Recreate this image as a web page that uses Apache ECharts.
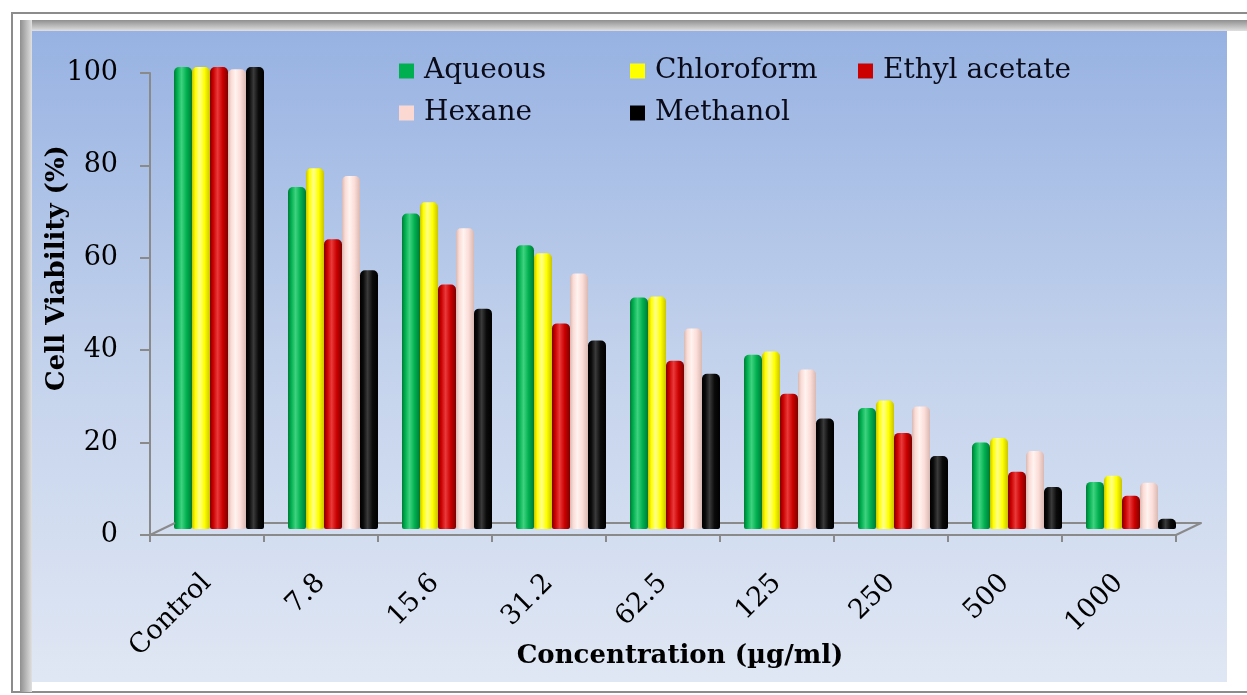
<!DOCTYPE html>
<html><head><meta charset="utf-8">
<script src="https://cdn.jsdelivr.net/npm/echarts@6/dist/echarts.min.js"></script>
<style>html,body{margin:0;padding:0;background:#fff}#c{width:1247px;height:695px}</style>
</head><body><div id="c"></div>
<script>
// ---- data ----
const categories = ['Control', '7.8', '15.6', '31.2', '62.5', '125', '250', '500', '1000'];
const seriesNames = ['Aqueous', 'Chloroform', 'Ethyl acetate', 'Hexane', 'Methanol'];
const aqueous    = [100, 74.0, 68.3, 61.4, 50.1, 37.7, 26.2, 18.7, 10.2];
const chloroform = [100, 78.1, 70.7, 59.7, 50.3, 38.4, 27.8, 19.7, 11.5];
const ethyl      = [100, 62.7, 52.9, 44.5, 36.4, 29.3, 20.8, 12.4, 7.2];
const hexane     = [99.5, 76.4, 65.1, 55.3, 43.4, 34.5, 26.5, 16.9, 10.0];
const methanol   = [100, 56.0, 47.7, 40.8, 33.6, 23.9, 15.8, 9.1, 2.2];
const yMin = 0, yMax = 100, yStep = 20;
const xAxisTitle = 'Concentration (µg/ml)';
const yAxisTitle = 'Cell Viability (%)';

// ---- styling ----
const FONT = 'DejaVu Serif';
const W = 1247, H = 695;
const G = {left: 150, right: 71, top: 73, bottom: 160};   // front (axis) plane
const B = {dx: 12, dy: -6};                                  // bar plane (3D depth)
const F = {dx: 25, dy: -12};                                 // back edge of floor
const palette = [
  ['#007a35', '#00b050', '#3fd27f'],
  ['#c9c400', '#ffff00', '#ffff8a'],
  ['#7e0000', '#cc0000', '#e83a3a'],
  ['#d9b8b2', '#fbdcd6', '#fff3f0'],
  ['#000000', '#0a0a0a', '#3a3a3a']
];
const legendColors = ['#00b050', '#ffff00', '#cc0000', '#fbd9d2', '#000000'];
const values = [aqueous, chloroform, ethyl, hexane, methanol];

function cyl(p) {
  return {type: 'linear', x: 0, y: 0, x2: 1, y2: 0, colorStops: [
    {offset: 0, color: p[0]}, {offset: 0.18, color: p[1]}, {offset: 0.42, color: p[2]},
    {offset: 0.7, color: p[1]}, {offset: 1, color: p[0]}]};
}
function shift(g, d) {
  return {left: g.left + d.dx, right: g.right - d.dx, top: g.top + d.dy, bottom: g.bottom - d.dy};
}
const gridBar = shift(G, B), gridBack = shift(G, F);
const axisGray = '#8a8a8a';
const x0 = G.left, x1 = W - G.right, yBase = H - G.bottom;

const legendPos = [[399, 57], [630, 57], [858, 57], [399, 99], [630, 99]];

const chart = echarts.init(document.getElementById('c'), null, {renderer: 'canvas'});
chart.setOption({
  animation: false,
  backgroundColor: '#ffffff',
  textStyle: {fontFamily: FONT},
  graphic: [
    {type: 'rect', z: -100, shape: {x: 12, y: 13, width: 1260, height: 679}, style: {fill: 'none', stroke: '#8c8c8c', lineWidth: 2}},
    {type: 'rect', z: -99, shape: {x: 20, y: 20, width: 1240, height: 11},
      style: {fill: {type: 'linear', x: 0, y: 0, x2: 0, y2: 1, colorStops: [{offset: 0, color: '#8f8f8f'}, {offset: 1, color: '#e0e0e0'}]}}},
    {type: 'rect', z: -99, shape: {x: 20, y: 20, width: 12, height: 672},
      style: {fill: {type: 'linear', x: 0, y: 0, x2: 1, y2: 0, colorStops: [{offset: 0, color: '#8f8f8f'}, {offset: 1, color: '#e0e0e0'}]}}},
    {type: 'rect', z: -98, shape: {x: 32, y: 31, width: 1195, height: 651},
      style: {fill: {type: 'linear', x: 0, y: 0, x2: 0, y2: 1, colorStops: [
        {offset: 0, color: '#97b2e2'}, {offset: 0.5, color: '#c3d2ec'}, {offset: 1, color: '#e0e7f4'}]}}},
    {type: 'line', z: 5, shape: {x1: x0, y1: yBase, x2: x0 + F.dx, y2: yBase + F.dy}, style: {stroke: axisGray, lineWidth: 2}},
    {type: 'line', z: 5, shape: {x1: x1, y1: yBase, x2: x1 + F.dx, y2: yBase + F.dy}, style: {stroke: axisGray, lineWidth: 2}}
  ],
  legend: seriesNames.map((n, i) => ({
    data: [{name: n, itemStyle: {color: legendColors[i]}}], left: legendPos[i][0], top: legendPos[i][1], padding: 0,
    itemWidth: 15, itemHeight: 15, icon: 'rect', selectedMode: false,
    textStyle: {fontFamily: FONT, fontSize: 28, color: '#0a0a18', lineHeight: 28, padding: [0, 0, 0, 5]}
  })),
  grid: [
    Object.assign({}, G, {containLabel: false}),
    Object.assign({}, gridBar, {containLabel: false}),
    Object.assign({}, gridBack, {containLabel: false})
  ],
  xAxis: [
    {type: 'category', gridIndex: 0, data: categories, boundaryGap: true,
      axisLine: {show: true, lineStyle: {color: axisGray, width: 2}},
      axisTick: {show: true, length: 7, lineStyle: {color: axisGray, width: 2}},
      axisLabel: {rotate: 45, margin: 44, fontFamily: FONT, fontSize: 27, color: '#000'},
      name: xAxisTitle, nameLocation: 'middle', nameGap: 108, nameMoveOverlap: false,
      nameTextStyle: {fontFamily: FONT, fontWeight: 'bold', fontSize: 26, color: '#000', padding: [0, 0, 0, 34]}},
    {type: 'category', gridIndex: 1, data: categories, show: false},
    {type: 'category', gridIndex: 2, data: categories,
      axisLine: {show: true, lineStyle: {color: axisGray, width: 2}},
      axisTick: {show: false}, axisLabel: {show: false}}
  ],
  yAxis: [
    {type: 'value', gridIndex: 0, min: yMin, max: yMax, interval: yStep,
      axisLine: {show: true, lineStyle: {color: axisGray, width: 2}},
      axisTick: {show: true, length: 10, lineStyle: {color: axisGray, width: 2}},
      splitLine: {show: false},
      axisLabel: {margin: 32, fontFamily: FONT, fontSize: 27, color: '#000'},
      name: yAxisTitle, nameLocation: 'middle', nameGap: 80, nameRotate: 90, nameMoveOverlap: false,
      nameTextStyle: {fontFamily: FONT, fontWeight: 'bold', fontSize: 26, color: '#000', padding: [0, 0, 0, 72]}},
    {type: 'value', gridIndex: 1, min: yMin, max: yMax, show: false, splitLine: {show: false}},
    {type: 'value', gridIndex: 2, min: yMin, max: yMax, show: false, splitLine: {show: false}}
  ],
  series: seriesNames.map((n, i) => ({
    name: n, type: 'bar', xAxisIndex: 1, yAxisIndex: 1, data: values[i],
    barWidth: 18, barGap: '0%', z: 3,
    itemStyle: {color: cyl(palette[i]), borderRadius: [5, 5, 2, 2]},
    emphasis: {disabled: true}
  })),
  color: legendColors
});
</script></body></html>
